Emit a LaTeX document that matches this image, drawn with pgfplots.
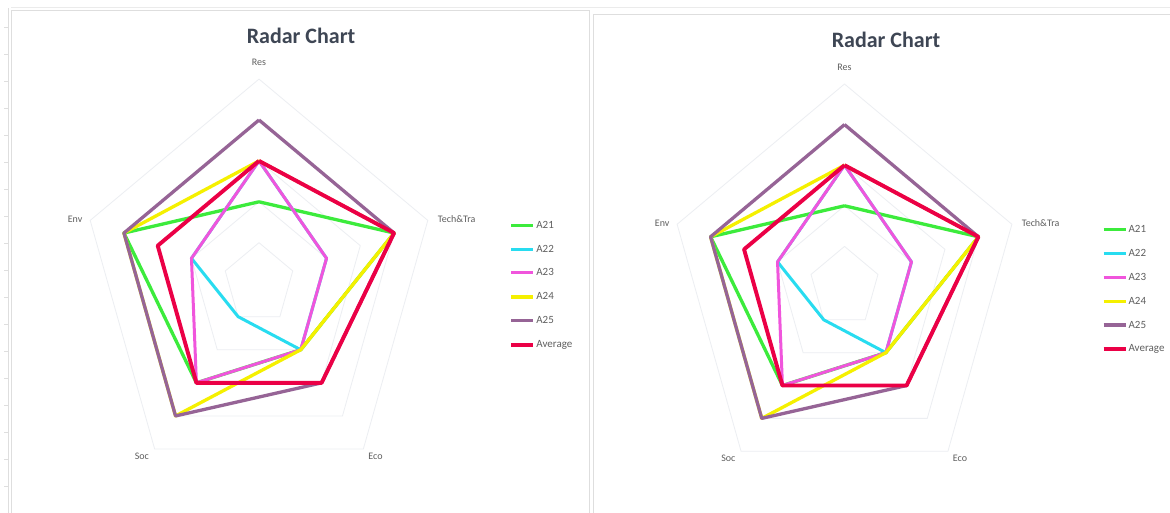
\documentclass[border=0pt]{standalone}
\usepackage{pgfplots}
\pgfplotsset{compat=1.18}
\usepackage{pgfplotstable}
\usepgfplotslibrary{polar}
\usepackage{fontspec}
\setmainfont{Carlito}

\definecolor{cA21}{RGB}{60,235,60}
\definecolor{cA22}{RGB}{40,220,240}
\definecolor{cA23}{RGB}{240,85,220}
\definecolor{cA24}{RGB}{245,240,0}
\definecolor{cA25}{RGB}{150,100,150}
\definecolor{cAvg}{RGB}{235,0,70}
\definecolor{titlegray}{RGB}{62,70,84}
\definecolor{labgray}{RGB}{95,95,95}
\definecolor{ringgray}{RGB}{236,238,242}
\definecolor{framegray}{RGB}{222,222,222}

% angle of each spoke (Res, Tech&Tra, Eco, Soc, Env), last row closes the shape
\pgfplotstableread{
angle A21 A22 A23 A24 A25 Avg
90    2   3   3   3   4   3
18    4   2   2   4   4   4
-54   2   2   2   2   3   3
-126  3   1   3   4   4   3
162   4   2   2   4   4   3
90    2   3   3   3   4   3
}\radardata

\pgfplotstableread{
angle r1 r2 r3 r4 r5
90    1  2  3  4  5
18    1  2  3  4  5
-54   1  2  3  4  5
-126  1  2  3  4  5
162   1  2  3  4  5
90    1  2  3  4  5
}\rings

\tikzset{lab/.style={font=\fontsize{10}{12}\selectfont, text=labgray}}
\pgfplotsset{
  radar/.style={
    hide axis, clip=false, anchor=origin,
    xmin=-6, xmax=9, ymin=-5, ymax=6,
    legend cell align=left,
    legend style={draw=none, fill=none, text=labgray,
      font=\fontsize{11}{13}\selectfont,
      row sep=11.9pt, inner sep=0pt,
      nodes={inner sep=1pt, text height=8pt, text depth=2pt}},
    legend image code/.code={\draw[##1] (0pt,0pt) -- (22pt,0pt);},
  },
}

\newcommand{\radarplots}{%
  \addplot[ringgray, line width=0.8pt, data cs=polar, forget plot] table[x=angle, y=r1] {\rings};
  \addplot[ringgray, line width=0.8pt, data cs=polar, forget plot] table[x=angle, y=r2] {\rings};
  \addplot[ringgray, line width=0.8pt, data cs=polar, forget plot] table[x=angle, y=r3] {\rings};
  \addplot[ringgray, line width=0.8pt, data cs=polar, forget plot] table[x=angle, y=r4] {\rings};
  \addplot[ringgray, line width=0.8pt, data cs=polar, forget plot] table[x=angle, y=r5] {\rings};
  \addplot[cA21, line width=3.3pt, line join=round, data cs=polar] table[x=angle, y=A21] {\radardata};
  \addlegendentry{A21}
  \addplot[cA22, line width=3pt, line join=round, data cs=polar] table[x=angle, y=A22] {\radardata};
  \addlegendentry{A22}
  \addplot[cA23, line width=3pt, line join=round, data cs=polar] table[x=angle, y=A23] {\radardata};
  \addlegendentry{A23}
  \addplot[cA24, line width=3.3pt, line join=round, data cs=polar] table[x=angle, y=A24] {\radardata};
  \addlegendentry{A24}
  \addplot[cA25, line width=3.3pt, line join=round, data cs=polar] table[x=angle, y=A25] {\radardata};
  \addlegendentry{A25}
  \addplot[cAvg, line width=3.9pt, line join=round, data cs=polar] table[x=angle, y=Avg] {\radardata};
  \addlegendentry{Average}
  \node[lab] at (axis cs:0,5.4) {Res};
  \node[lab] at (axis cs:5.57,1.58) {Tech\&Tra};
  \node[lab] at (axis cs:3.28,-4.23) {Eco};
  \node[lab] at (axis cs:-3.3,-4.23) {Soc};
  \node[lab] at (axis cs:-5.18,1.58) {Env};
}

\begin{document}
\begin{tikzpicture}[x=1pt, y=1pt]
\useasboundingbox (0,0) rectangle (1170,513);
\fill[white] (0,0) rectangle (1170,513);

% sheet and chart frames
\draw[framegray, line width=0.8pt] (8,0) -- (8,505);
\foreach \yy in {27,54,...,500} \draw[framegray, line width=0.6pt] (4,\yy) -- (8,\yy);
\draw[framegray, line width=0.8pt] (11,0) -- (11,503) -- (589,503) -- (589,0);
\draw[framegray, line width=0.8pt] (593,0) -- (593,499) -- (1170,499);
\draw[framegray!60, line width=0.6pt] (11,506) -- (1170,506);

% left chart
\begin{axis}[radar, at={(259pt,229.4pt)}, x=35.5pt, y=40.9pt,
  legend style={at={(axis cs:7.05,1.58)}, anchor=north west}]
\radarplots
\end{axis}
\node[font=\bfseries\fontsize{22}{26}\selectfont, text=titlegray] at (301,477) {Radar Chart};

% right chart
\begin{axis}[radar, at={(844.5pt,226pt)}, x=35.2pt, y=40.6pt,
  legend style={at={(axis cs:7.3,1.57)}, anchor=north west}]
\radarplots
\end{axis}
\node[font=\bfseries\fontsize{22}{26}\selectfont, text=titlegray] at (886,473) {Radar Chart};
\end{tikzpicture}
\end{document}
